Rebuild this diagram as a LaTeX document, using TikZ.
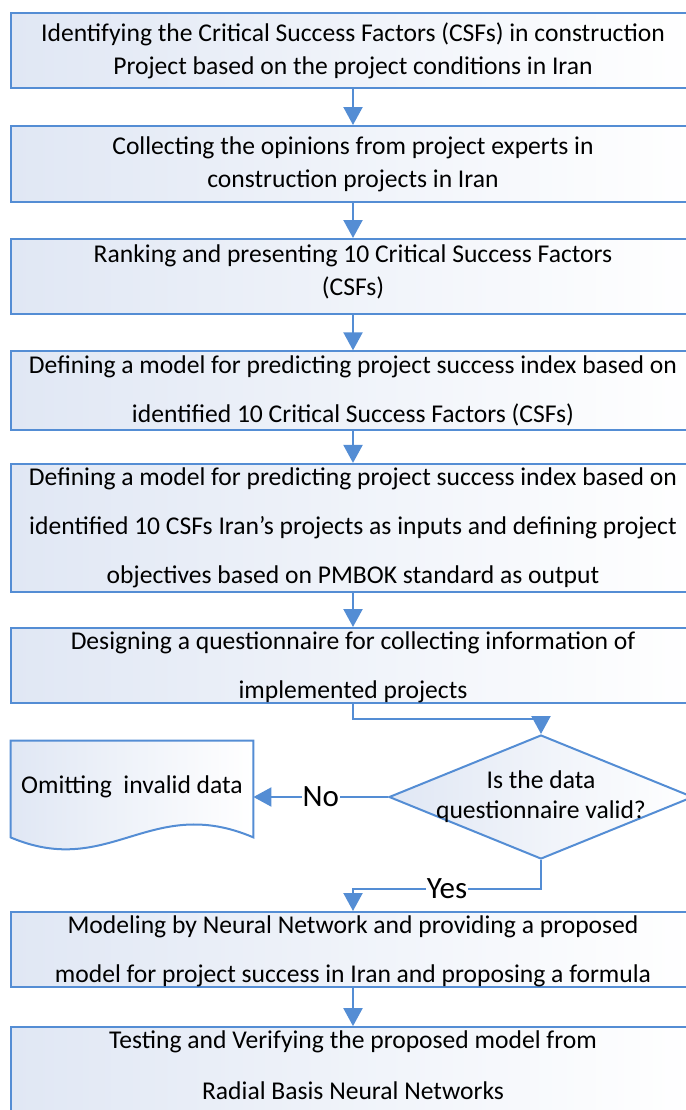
\documentclass[tikz,border=0pt]{standalone}
\usepackage{fontspec}
\setmainfont{Carlito}
\usetikzlibrary{arrows.meta, shapes.geometric, backgrounds}
\definecolor{myblue}{RGB}{84,141,212}
\definecolor{myshade}{RGB}{224,231,244}

\tikzset{
  stage/.style={draw=myblue, line width=1pt, left color=myshade, right color=white,
    minimum width=342pt, minimum height=37.5pt, inner sep=2pt, align=center},
  tight/.style={font=\fontsize{12.8}{16.5}\selectfont},
  loose/.style={font=\fontsize{12.8}{24.5}\selectfont},
  flow/.style={draw=myblue, line width=1.1pt, -{Triangle[length=9pt,width=9.5pt]}},
  decision/.style={diamond, draw=myblue, line width=1pt, left color=myshade, right color=white,
    minimum width=152pt, minimum height=62pt, inner sep=0pt},
  answer/.style={fill=white, inner sep=0.5pt, font=\fontsize{15.5}{18}\selectfont},
}

\begin{document}
\begin{tikzpicture}[x=0.5pt, y=-0.5pt]
\useasboundingbox (0,0) rectangle (686,1110);

% main chain of stages
\node[stage, tight] (ident) at (353,50.5) {Identifying the Critical Success Factors (CSFs) in construction\\Project based on the project conditions in Iran};
\node[stage, tight, minimum height=38pt] (collect) at (353,164) {Collecting the opinions from project experts in\\construction projects in Iran};
\node[stage, tight, text depth=6pt] (rank) at (353,276.5) {Ranking and presenting 10 Critical Success Factors\\(CSFs)};
\node[stage, loose] (csfmodel) at (353,390.5) {Defining a model for predicting project success index based on\\identified 10 Critical Success Factors (CSFs)};
\node[stage, loose, minimum height=62pt] (iomodel) at (353,528) {Defining a model for predicting project success index based on\\identified 10 CSFs Iran's projects as inputs and defining project\\objectives based on PMBOK standard as output};
\node[stage, loose, text depth=0pt] (design) at (353,665.5) {Designing a questionnaire for collecting information of\\implemented projects};

% check of the data
\node[decision, label={[align=center, font=\fontsize{12.8}{15}\selectfont]center:Is the data\\questionnaire valid?}] (valid) at (541,797) {};
\node[inner sep=2pt, minimum width=121pt, minimum height=48pt, font=\fontsize{12.8}{15}\selectfont, text depth=4pt] (omit) at (132,789) {Omitting\ \ invalid data};
\begin{scope}[on background layer]
\draw[draw=myblue, line width=1pt, left color=myshade, right color=white]
  (omit.south west) -- (omit.north west) -- (omit.north east) -- (omit.south east)
  .. controls +(-103,-44) and +(99,42) .. (omit.south west) -- cycle;
\end{scope}

\node[stage, loose, text depth=0pt] (nnmodel) at (353,949.5) {Modeling by Neural Network and providing a proposed\\model for project success in Iran and proposing a formula};
\node[stage, loose, font=\fontsize{12.8}{25.5}\selectfont, text depth=11pt] (verify) at (353,1076.5) {Testing and Verifying the proposed model from\\Radial Basis Neural Networks};

% connectors
\foreach \a/\b in {ident/collect, collect/rank, rank/csfmodel, csfmodel/iomodel, iomodel/design, nnmodel/verify}
  \draw[flow] (\a) -- (\b);
\draw[flow] (design.south) -- ++(0,15) -| (valid.north);
\draw[flow] (valid.west) -- (valid.west -| omit.east) node[answer, midway] {No};
\draw[flow] (valid.south) -- ++(0,29) -| (nnmodel.north) node[answer, pos=0.25] {Yes};
\end{tikzpicture}
\end{document}
